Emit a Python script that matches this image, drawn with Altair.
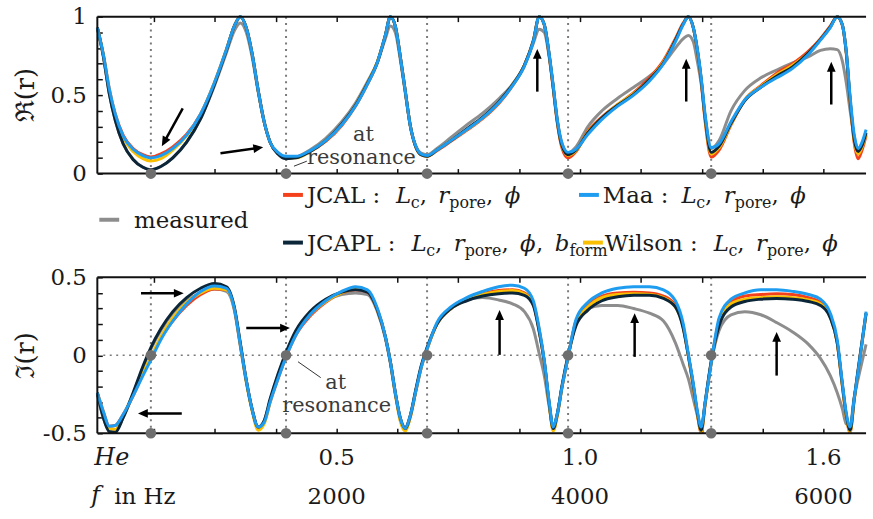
import math
import altair as alt
import pandas as pd

# ---------------- data ----------------
freq_hz = [33, 82, 131, 180, 245, 327, 408, 473, 555, 653, 767, 882, 996, 1094, 1159, 1208, 1257, 1306, 1355, 1404, 1453, 1518, 1584,
           1665, 1780, 1910, 2041, 2155, 2253, 2335, 2400, 2441, 2482, 2522, 2563, 2604, 2653, 2694, 2743,
           2824, 2939, 3069, 3200, 3331, 3445, 3543, 3616, 3665, 3706, 3747, 3780, 3812, 3853, 3902,
           3967, 4065, 4180, 4310, 4441, 4571, 4686, 4784, 4849, 4890, 4931, 4963, 4996, 5029, 5078,
           5143, 5241, 5355, 5486, 5616, 5747, 5878, 5976, 6057, 6114, 6155, 6188, 6220, 6253, 6286, 6318, 6351]

# real part
re_measured = [0.93, 0.75, 0.51, 0.34, 0.19, 0.09, 0.04, 0.025, 0.045, 0.10, 0.20, 0.35, 0.56, 0.77, 0.91, 0.96, 0.90, 0.74, 0.52, 0.33, 0.20, 0.125, 0.095,
               0.105, 0.15, 0.225, 0.33, 0.45, 0.585, 0.71, 0.86, 0.94, 0.90, 0.73, 0.52, 0.31, 0.17, 0.13, 0.12,
               0.16, 0.23, 0.31, 0.385, 0.475, 0.57, 0.69, 0.83, 0.92, 0.90, 0.74, 0.55, 0.35, 0.19, 0.13,
               0.17, 0.30, 0.40, 0.48, 0.55, 0.62, 0.70, 0.80, 0.86, 0.88, 0.84, 0.72, 0.57, 0.36, 0.16,
               0.21, 0.40, 0.53, 0.61, 0.66, 0.705, 0.745, 0.785, 0.795, 0.79, 0.72, 0.58, 0.40, 0.24, 0.155, 0.19, 0.25]
re_jcal = [0.93, 0.76, 0.54, 0.38, 0.245, 0.16, 0.12, 0.105, 0.125, 0.17, 0.25, 0.38, 0.58, 0.79, 0.94, 1.00, 0.93, 0.76, 0.53, 0.33, 0.20, 0.13, 0.105,
           0.105, 0.14, 0.205, 0.305, 0.43, 0.57, 0.71, 0.88, 1.00, 0.94, 0.75, 0.53, 0.31, 0.165, 0.12, 0.11,
           0.145, 0.205, 0.275, 0.35, 0.445, 0.56, 0.69, 0.845, 1.00, 0.95, 0.75, 0.54, 0.33, 0.16, 0.10,
           0.14, 0.27, 0.36, 0.44, 0.515, 0.61, 0.72, 0.86, 0.96, 1.00, 0.93, 0.79, 0.59, 0.33, 0.105,
           0.15, 0.31, 0.47, 0.56, 0.64, 0.70, 0.78, 0.86, 0.94, 1.00, 0.95, 0.77, 0.46, 0.20, 0.095, 0.15, 0.24]
re_jcapl = [0.93, 0.75, 0.51, 0.34, 0.19, 0.09, 0.04, 0.025, 0.045, 0.10, 0.20, 0.35, 0.57, 0.785, 0.94, 1.00, 0.93, 0.76, 0.53, 0.33, 0.20, 0.125, 0.095,
            0.10, 0.14, 0.21, 0.315, 0.435, 0.575, 0.71, 0.88, 1.00, 0.94, 0.75, 0.53, 0.31, 0.165, 0.12, 0.11,
            0.15, 0.21, 0.285, 0.36, 0.455, 0.565, 0.69, 0.845, 1.00, 0.95, 0.755, 0.55, 0.34, 0.175, 0.12,
            0.15, 0.26, 0.355, 0.435, 0.505, 0.60, 0.705, 0.85, 0.955, 1.00, 0.93, 0.795, 0.60, 0.35, 0.135,
            0.175, 0.32, 0.465, 0.55, 0.62, 0.68, 0.77, 0.855, 0.935, 1.00, 0.95, 0.775, 0.47, 0.22, 0.14, 0.18, 0.26]
re_maa = [0.93, 0.76, 0.54, 0.38, 0.24, 0.155, 0.115, 0.10, 0.115, 0.16, 0.245, 0.38, 0.58, 0.79, 0.94, 1.00, 0.93, 0.76, 0.53, 0.33, 0.20, 0.135, 0.11,
          0.11, 0.145, 0.21, 0.31, 0.43, 0.57, 0.71, 0.88, 1.00, 0.94, 0.75, 0.53, 0.31, 0.17, 0.125, 0.115,
          0.15, 0.21, 0.28, 0.355, 0.45, 0.56, 0.685, 0.84, 1.00, 0.95, 0.76, 0.56, 0.35, 0.19, 0.135,
          0.155, 0.25, 0.345, 0.43, 0.50, 0.59, 0.70, 0.84, 0.95, 1.00, 0.93, 0.80, 0.61, 0.37, 0.165,
          0.19, 0.33, 0.47, 0.55, 0.61, 0.67, 0.76, 0.85, 0.93, 1.00, 0.95, 0.78, 0.49, 0.25, 0.16, 0.20, 0.28]
re_wilson = [0.93, 0.76, 0.53, 0.37, 0.23, 0.14, 0.095, 0.08, 0.095, 0.15, 0.24, 0.375, 0.58, 0.79, 0.94, 1.00, 0.93, 0.76, 0.53, 0.33, 0.20, 0.13, 0.10,
             0.10, 0.14, 0.21, 0.31, 0.435, 0.575, 0.715, 0.88, 1.00, 0.94, 0.75, 0.53, 0.31, 0.165, 0.12, 0.11,
             0.15, 0.21, 0.28, 0.355, 0.45, 0.565, 0.69, 0.845, 1.00, 0.95, 0.755, 0.55, 0.34, 0.17, 0.115,
             0.145, 0.265, 0.355, 0.44, 0.51, 0.60, 0.71, 0.85, 0.955, 1.00, 0.93, 0.79, 0.60, 0.34, 0.125,
             0.165, 0.315, 0.47, 0.555, 0.63, 0.69, 0.77, 0.855, 0.935, 1.00, 0.95, 0.775, 0.47, 0.21, 0.125, 0.17, 0.25]

# imaginary part
im_measured = [-0.25, -0.40, -0.48, -0.485, -0.40, -0.25, -0.08, 0.04, 0.16, 0.27, 0.35, 0.40, 0.425, 0.41, 0.29, 0.06, -0.17, -0.35, -0.46, -0.42, -0.29, -0.13, 0.01,
               0.15, 0.27, 0.35, 0.39, 0.40, 0.39, 0.28, 0.11, -0.05, -0.25, -0.40, -0.46, -0.39, -0.22, -0.08, 0.04,
               0.20, 0.30, 0.355, 0.37, 0.355, 0.33, 0.28, 0.17, 0.01, -0.13, -0.33, -0.46, -0.38, -0.20, -0.01,
               0.21, 0.30, 0.32, 0.32, 0.30, 0.27, 0.22, 0.08, -0.06, -0.15, -0.28, -0.38, -0.47, -0.30, -0.05,
               0.16, 0.26, 0.28, 0.26, 0.21, 0.15, 0.07, -0.02, -0.13, -0.24, -0.34, -0.44, -0.45, -0.27, -0.15, -0.04, 0.07]
im_jcal = [-0.24, -0.36, -0.455, -0.45, -0.38, -0.26, -0.12, -0.02, 0.11, 0.22, 0.32, 0.39, 0.425, 0.42, 0.30, 0.07, -0.16, -0.35, -0.465, -0.43, -0.30, -0.15, -0.01,
           0.13, 0.25, 0.34, 0.40, 0.42, 0.405, 0.29, 0.12, -0.04, -0.24, -0.41, -0.475, -0.40, -0.22, -0.08, 0.04,
           0.20, 0.30, 0.36, 0.395, 0.415, 0.42, 0.40, 0.33, 0.16, -0.04, -0.31, -0.48, -0.39, -0.20, -0.01,
           0.22, 0.32, 0.38, 0.40, 0.405, 0.40, 0.38, 0.32, 0.18, 0.0, -0.20, -0.37, -0.495, -0.31, -0.05,
           0.22, 0.34, 0.38, 0.39, 0.395, 0.39, 0.37, 0.34, 0.25, 0.08, -0.19, -0.39, -0.495, -0.29, -0.10, 0.08, 0.27]
im_jcapl = [-0.24, -0.40, -0.49, -0.495, -0.40, -0.24, -0.07, 0.05, 0.17, 0.28, 0.37, 0.43, 0.46, 0.44, 0.31, 0.08, -0.16, -0.35, -0.46, -0.42, -0.28, -0.12, 0.02,
            0.16, 0.28, 0.36, 0.405, 0.42, 0.405, 0.29, 0.12, -0.04, -0.24, -0.40, -0.47, -0.39, -0.21, -0.07, 0.05,
            0.20, 0.30, 0.35, 0.38, 0.395, 0.40, 0.385, 0.32, 0.15, -0.04, -0.31, -0.47, -0.38, -0.19, 0.0,
            0.19, 0.29, 0.35, 0.375, 0.385, 0.385, 0.365, 0.31, 0.17, 0.0, -0.19, -0.36, -0.48, -0.30, -0.04,
            0.19, 0.31, 0.345, 0.36, 0.365, 0.36, 0.345, 0.32, 0.24, 0.08, -0.18, -0.38, -0.48, -0.28, -0.09, 0.09, 0.27]
im_maa = [-0.24, -0.36, -0.455, -0.45, -0.38, -0.26, -0.13, -0.03, 0.10, 0.22, 0.33, 0.41, 0.445, 0.43, 0.30, 0.07, -0.16, -0.35, -0.46, -0.43, -0.30, -0.15, -0.01,
          0.13, 0.26, 0.35, 0.41, 0.44, 0.42, 0.30, 0.12, -0.04, -0.24, -0.40, -0.47, -0.39, -0.22, -0.08, 0.04,
          0.21, 0.31, 0.37, 0.41, 0.44, 0.45, 0.43, 0.35, 0.17, -0.03, -0.30, -0.46, -0.38, -0.20, -0.01,
          0.23, 0.34, 0.40, 0.43, 0.44, 0.44, 0.42, 0.35, 0.20, 0.01, -0.18, -0.35, -0.46, -0.30, -0.05,
          0.24, 0.36, 0.40, 0.42, 0.42, 0.41, 0.39, 0.36, 0.27, 0.10, -0.17, -0.37, -0.46, -0.28, -0.10, 0.08, 0.28]
im_wilson = [-0.24, -0.37, -0.47, -0.475, -0.39, -0.25, -0.11, -0.01, 0.12, 0.24, 0.34, 0.40, 0.43, 0.42, 0.30, 0.07, -0.17, -0.36, -0.48, -0.44, -0.30, -0.14, 0.0,
             0.14, 0.26, 0.345, 0.40, 0.425, 0.41, 0.29, 0.12, -0.04, -0.25, -0.42, -0.485, -0.40, -0.22, -0.08, 0.04,
             0.20, 0.30, 0.355, 0.39, 0.41, 0.415, 0.395, 0.33, 0.16, -0.04, -0.32, -0.485, -0.39, -0.20, -0.01,
             0.21, 0.31, 0.37, 0.39, 0.395, 0.39, 0.37, 0.31, 0.18, 0.0, -0.20, -0.37, -0.49, -0.31, -0.05,
             0.21, 0.33, 0.36, 0.37, 0.375, 0.37, 0.355, 0.33, 0.245, 0.08, -0.19, -0.39, -0.49, -0.29, -0.10, 0.08, 0.27]

series_order = ["measured", "JCAL", "Wilson", "JCAPL", "Maa"]          # drawing order
series_colors = {"measured": "#8d8d8d", "JCAL": "#f4411c", "Wilson": "#f9bf00",
                 "JCAPL": "#0b2638", "Maa": "#1e9cf0"}
re_series = {"measured": re_measured, "JCAL": re_jcal, "Wilson": re_wilson, "JCAPL": re_jcapl, "Maa": re_maa}
im_series = {"measured": im_measured, "JCAL": im_jcal, "Wilson": im_wilson, "JCAPL": im_jcapl, "Maa": im_maa}
for d in (re_series, im_series):
    for k, v in d.items():
        assert len(v) == len(freq_hz), (k, len(v))

resonance_hz = [473, 1584, 2743, 3902, 5078]

x_label_hz = [2000, 4000, 6000]
x_label_he = ["0.5", "1.0", "1.6"]
x_tick_hz = [500 * i for i in range(1, 13)]
re_label_values = [0, 0.5, 1]
re_label_text = ["0", "0.5", "1"]
im_label_values = [-0.5, 0, 0.5]
im_label_text = ["-0.5", "0", "0.5"]

# arrows: (tail Hz, tail value, tip Hz, tip value)
re_arrows = [(735, 0.415, 563, 0.174), (1045, 0.13, 1396, 0.168), (3649, 0.522, 3649, 0.794),
             (4873, 0.459, 4873, 0.731), (6065, 0.44, 6065, 0.712)]
im_arrows = [(392, 0.398, 743, 0.398), (1257, 0.175, 1616, 0.175), (727, -0.373, 367, -0.373),
             (3339, 0.003, 3339, 0.29), (4449, -0.01, 4449, 0.27), (5616, -0.13, 5616, 0.15)]

# ---------------- layout ----------------
W, H_TOP, H_BOT = 775, 158, 157
X0, X1 = 33, 6359
SERIF = "DejaVu Serif"
TXT = "#1a1a1a"
FRAME = "#111111"
xs = alt.Scale(domain=[X0, X1], nice=False, zero=False)
ys_re = alt.Scale(domain=[0, 1], nice=False, zero=False)
ys_im = alt.Scale(domain=[-0.5, 0.5], nice=False, zero=False)


def x_axis(orient):
    return alt.Axis(orient=orient, values=x_tick_hz, labels=False, offset=-5, tickSize=5,
                    tickWidth=1.5, tickColor=FRAME, domain=False, grid=False, title=None)


def y_axis(label_values, label_text):
    lo, hi = label_values[0], label_values[-1]
    vals = [round(lo + 0.1 * i, 1) for i in range(int(round((hi - lo) / 0.1)) + 1)]
    expr = " : ".join(f"abs(datum.value - ({v})) < 0.001 ? '{t}'" for v, t in zip(label_values, label_text)) + " : ''"
    return alt.Axis(orient="left", values=vals, labelExpr=expr, offset=-5, tickSize=5, tickWidth=1.5,
                    tickColor=FRAME, domain=False, grid=False, title=None, labelFont=SERIF,
                    labelFontSize=23, labelColor=TXT, labelPadding=11, labelOverlap=False,
                    labelFlush=False, labelBound=False)


def frame_layers(h):
    d = pd.DataFrame({"a": [0]})
    rules = []
    for enc in [dict(x=alt.value(0), y=alt.value(0), y2=alt.value(h)),
                dict(x=alt.value(0), x2=alt.value(W - 1), y=alt.value(0)),
                dict(x=alt.value(0), x2=alt.value(W - 1), y=alt.value(h))]:
        rules.append(alt.Chart(d).mark_rule(color=FRAME, strokeWidth=2).encode(**enc))
    return rules


def arrows_layers(arrows, ys, h):
    kx = W / (X1 - X0)
    rows = []
    for f1, v1, f2, v2 in arrows:
        dx = (f2 - f1) * kx
        dy = -(v2 - v1) * h
        L = math.hypot(dx, dy)
        ux, uy = dx / L, dy / L
        rows.append({"f1": f1, "v1": v1,
                     "fs": f2 - 6 * ux / kx, "vs": v2 + 6 * uy / h,
                     "ft": f2, "vt": v2,
                     "ang": math.degrees(math.atan2(dx, -dy)) % 360})
    df = pd.DataFrame(rows)
    shaft = alt.Chart(df).mark_rule(color="black", strokeWidth=2.5).encode(
        x=alt.X("f1:Q", scale=xs, axis=None), y=alt.Y("v1:Q", scale=ys, axis=None),
        x2="fs:Q", y2="vs:Q")
    head = alt.Chart(df).mark_point(shape="M0,0L0.8,1.8L-0.8,1.8Z", filled=True, size=121,
                                    color="black", opacity=1, strokeWidth=0).encode(
        x=alt.X("ft:Q", scale=xs, axis=None), y=alt.Y("vt:Q", scale=ys, axis=None),
        angle=alt.Angle("ang:Q", scale=None))
    return [shaft, head]


def panel(series, ys, h, label_values, label_text, dot_values, title, extra):
    layers = []
    res = pd.DataFrame({"f": resonance_hz})
    layers.append(alt.Chart(res).mark_rule(color="#7a7a7a", strokeWidth=2, strokeDash=[2, 4.5]).encode(
        x=alt.X("f:Q", scale=xs, axis=None)))
    if ys is ys_im:
        layers.append(alt.Chart(pd.DataFrame({"v": [0]})).mark_rule(
            color="#7a7a7a", strokeWidth=1.6, strokeDash=[2, 4.5]).encode(
            y=alt.Y("v:Q", scale=ys, axis=None)))
    for i, name in enumerate(series_order):
        df = pd.DataFrame({"f": freq_hz, "v": series[name]})
        layers.append(alt.Chart(df).mark_line(color=series_colors[name], strokeWidth=3,
                                              interpolate="monotone").encode(
            x=alt.X("f:Q", scale=xs, axis=x_axis("bottom") if i == 0 else None),
            y=alt.Y("v:Q", scale=ys, axis=y_axis(label_values, label_text) if i == 0 else None)))
    layers.append(alt.Chart(pd.DataFrame({"f": [X0]})).mark_point(opacity=0).encode(
        x=alt.X("f:Q", scale=xs, axis=x_axis("top"))))
    layers += frame_layers(h)
    dots = pd.DataFrame([{"f": f, "v": v} for v in dot_values for f in resonance_hz])
    layers.append(alt.Chart(dots).mark_circle(size=115, color="#6e6e6e", opacity=1).encode(
        x=alt.X("f:Q", scale=xs, axis=None), y=alt.Y("v:Q", scale=ys, axis=None)))
    layers.append(alt.Chart(pd.DataFrame({"t": [title]})).mark_text(
        font=SERIF, fontSize=26, angle=270, color=TXT).encode(
        x=alt.value(-72), y=alt.value(h / 2), text="t:N"))
    layers += extra
    return alt.layer(*layers).properties(width=W, height=h).resolve_axis(x="independent", y="independent")


# ---- "at resonance" annotations ----
def at_resonance(ys, at_pos, res_pos, leader):
    df = pd.DataFrame({"f": [at_pos[0], res_pos[0]], "v": [at_pos[1], res_pos[1]], "t": ["at", "resonance"]})
    txt = alt.Chart(df).mark_text(font=SERIF, fontSize=21, color="#3a3a3a").encode(
        x=alt.X("f:Q", scale=xs, axis=None), y=alt.Y("v:Q", scale=ys, axis=None), text="t:N")
    ld = pd.DataFrame([{"f1": leader[0], "v1": leader[1], "f2": leader[2], "v2": leader[3]}])
    line = alt.Chart(ld).mark_rule(color="#333", strokeWidth=1).encode(
        x=alt.X("f1:Q", scale=xs, axis=None), y=alt.Y("v1:Q", scale=ys, axis=None), x2="f2:Q", y2="v2:Q")
    return [line, txt]


# ---- custom legend (pixel layout relative to the top panel) ----
EM = {' ': 0.5, ':': 0.337, ',': 0.318, 'J': 0.472, 'C': 0.735, 'A': 0.722, 'L': 0.640, 'P': 0.674,
      'M': 0.918, 'W': 1.034, 'a': 0.596, 'c': 0.560, 'e': 0.592, 'f': 0.371, 'i': 0.320, 'l': 0.320,
      'm': 0.948, 'n': 0.644, 'o': 0.602, 'p': 0.641, 'r': 0.478, 's': 0.513, 'u': 0.640, 'd': 0.641,
      'b': 0.641, 'ϕ': 0.70}
FS_MAIN, FS_SUB = 23, 16
params = [("L", "i"), ("c", "s"), (", ", "n"), ("r", "i"), ("pore", "s"), (", ", "n"), ("ϕ", "i")]
legend_entries = [
    # name, swatch x0 (page), row centre y (page), text x (page), segments
    ("measured", 100, 219, 135, [("measured", "n")]),
    ("JCAL", 285, 194, 309, [("JCAL : ", "n")] + params),
    ("Maa", 583, 194, 607, [("Maa : ", "n")] + params),
    ("JCAPL", 285, 242, 309, [("JCAPL : ", "n")] + params + [(", ", "n"), ("b", "i"), ("form", "s")]),
    ("Wilson", 587, 242, 609, [("Wilson : ", "n")] + params),
]
PX0, PY0 = 98, 14.5
sw_rows, seg_rows = [], []
for name, sx, cy, tx, segs in legend_entries:
    sw_rows.append({"x1": sx - PX0, "x2": sx + 20 - PX0, "y": cy - PY0, "c": series_colors[name]})
    x = tx - PX0
    base = cy + 8 - PY0
    for t, kind in segs:
        fs = FS_SUB if kind == "s" else FS_MAIN
        seg_rows.append({"x": x, "y": base + (5 if kind == "s" else 0), "t": t, "k": kind})
        x += sum(EM.get(ch, 0.6) for ch in t) * fs
sw_df = pd.DataFrame(sw_rows)
seg_df = pd.DataFrame(seg_rows)
legend_layers = [alt.Chart(sw_df).mark_rule(strokeWidth=4).encode(
    x=alt.X("x1:Q", scale=None, axis=None), x2="x2:Q", y=alt.Y("y:Q", scale=None, axis=None),
    color=alt.Color("c:N", scale=None))]
for kind, fs, style in [("n", FS_MAIN, "normal"), ("i", FS_MAIN, "italic"), ("s", FS_SUB, "normal")]:
    legend_layers.append(alt.Chart(seg_df[seg_df.k == kind]).mark_text(
        align="left", baseline="alphabetic", font=SERIF, fontSize=fs, fontStyle=style, color=TXT).encode(
        x=alt.X("x:Q", scale=None, axis=None), y=alt.Y("y:Q", scale=None, axis=None), text="t:N"))

anchor = alt.Chart(pd.DataFrame({"a": [0]})).mark_rule(opacity=0, strokeOpacity=0).encode(
    x=alt.value(-98), y=alt.value(-14.5), y2=alt.value(0))

top_extra = [anchor] + arrows_layers(re_arrows, ys_re, H_TOP) + \
    at_resonance(ys_re, (2220, 0.243), (2204, 0.1), (1649, 0.047, 1755, 0.079)) + legend_layers

# ---- x labels under the bottom panel ----
xl = pd.DataFrame({"f": x_label_hz, "he": x_label_he, "hz": [str(v) for v in x_label_hz]})
bottom_labels = [
    alt.Chart(xl).mark_text(font=SERIF, fontSize=23, color=TXT).encode(
        x=alt.X("f:Q", scale=xs, axis=None), y=alt.value(182), text="he:N"),
    alt.Chart(xl).mark_text(font=SERIF, fontSize=23, color=TXT).encode(
        x=alt.X("f:Q", scale=xs, axis=None), y=alt.value(221), text="hz:N"),
    alt.Chart(pd.DataFrame({"t": ["He"]})).mark_text(font=SERIF, fontSize=24, fontStyle="italic",
                                                     align="left", color=TXT).encode(
        x=alt.value(-3), y=alt.value(182), text="t:N"),
    alt.Chart(pd.DataFrame({"t": ["f"]})).mark_text(font=SERIF, fontSize=24, fontStyle="italic",
                                                    align="left", color=TXT).encode(
        x=alt.value(-6), y=alt.value(220), text="t:N"),
    alt.Chart(pd.DataFrame({"t": ["in Hz"]})).mark_text(font=SERIF, fontSize=23,
                                                        align="left", color=TXT).encode(
        x=alt.value(17), y=alt.value(221), text="t:N"),
]
bot_extra = arrows_layers(im_arrows, ys_im, H_BOT) + \
    at_resonance(ys_im, (1992, -0.178), (2000, -0.325), (1682, -0.041, 1869, -0.143)) + bottom_labels

top = panel(re_series, ys_re, H_TOP, re_label_values, re_label_text, [0], "ℜ(r)", top_extra)
bottom = panel(im_series, ys_im, H_BOT, im_label_values, im_label_text, [0, -0.5], "ℑ(r)", bot_extra)

chart = alt.vconcat(top, bottom, spacing=104.5, bounds="flush").resolve_scale(
    x="independent", y="independent").properties(padding=0, background="white").configure_view(
    strokeWidth=0)

chart.save("out.html", embed_options={"renderer": "svg", "actions": False})
